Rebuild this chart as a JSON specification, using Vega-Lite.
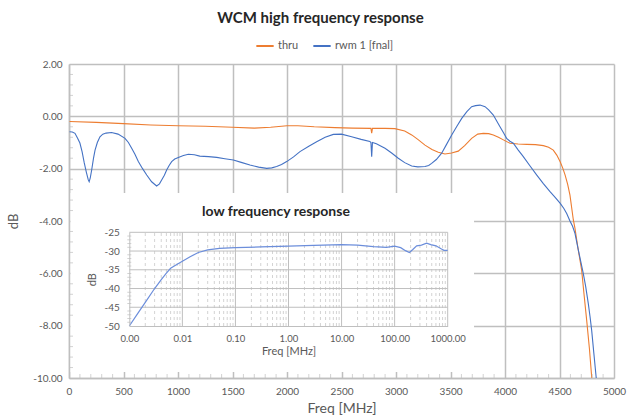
{
  "$schema": "https://vega.github.io/schema/vega-lite/v6.json",
  "width": 545,
  "height": 314,
  "autosize": "none",
  "padding": {"left": 69, "top": 64, "right": 16, "bottom": 38},
  "config": {
    "font": "Lato",
    "view": {"stroke": null},
    "axis": {"labelFlush": false, "labelOverlap": false},
    "locale": {"number": {"decimal": ".", "thousands": ",", "grouping": [3], "currency": ["$", ""], "minus": "-"}}
  },
  "title": {"text": "WCM high frequency response", "anchor": "middle", "frame": "group", "dx": -21, "offset": 10, "fontSize": 15, "fontWeight": "bold", "color": "#262626"},
  "datasets": {
    "hf": [
      {"f": 5, "db": -0.2, "s": "thru"},
      {"f": 250, "db": -0.23, "s": "thru"},
      {"f": 500, "db": -0.28, "s": "thru"},
      {"f": 750, "db": -0.33, "s": "thru"},
      {"f": 1000, "db": -0.36, "s": "thru"},
      {"f": 1250, "db": -0.38, "s": "thru"},
      {"f": 1500, "db": -0.42, "s": "thru"},
      {"f": 1700, "db": -0.45, "s": "thru"},
      {"f": 1850, "db": -0.42, "s": "thru"},
      {"f": 2000, "db": -0.36, "s": "thru"},
      {"f": 2100, "db": -0.36, "s": "thru"},
      {"f": 2250, "db": -0.4, "s": "thru"},
      {"f": 2440, "db": -0.43, "s": "thru"},
      {"f": 2600, "db": -0.45, "s": "thru"},
      {"f": 2770, "db": -0.46, "s": "thru"},
      {"f": 2777, "db": -0.64, "s": "thru"},
      {"f": 2784, "db": -0.46, "s": "thru"},
      {"f": 2900, "db": -0.46, "s": "thru"},
      {"f": 2990, "db": -0.47, "s": "thru"},
      {"f": 3080, "db": -0.56, "s": "thru"},
      {"f": 3144, "db": -0.71, "s": "thru"},
      {"f": 3200, "db": -0.88, "s": "thru"},
      {"f": 3266, "db": -1.1, "s": "thru"},
      {"f": 3330, "db": -1.27, "s": "thru"},
      {"f": 3388, "db": -1.37, "s": "thru"},
      {"f": 3449, "db": -1.44, "s": "thru"},
      {"f": 3510, "db": -1.4, "s": "thru"},
      {"f": 3571, "db": -1.33, "s": "thru"},
      {"f": 3630, "db": -1.12, "s": "thru"},
      {"f": 3694, "db": -0.84, "s": "thru"},
      {"f": 3750, "db": -0.68, "s": "thru"},
      {"f": 3801, "db": -0.65, "s": "thru"},
      {"f": 3850, "db": -0.66, "s": "thru"},
      {"f": 3893, "db": -0.71, "s": "thru"},
      {"f": 3940, "db": -0.8, "s": "thru"},
      {"f": 3985, "db": -0.9, "s": "thru"},
      {"f": 4046, "db": -1.03, "s": "thru"},
      {"f": 4120, "db": -1.06, "s": "thru"},
      {"f": 4199, "db": -1.07, "s": "thru"},
      {"f": 4280, "db": -1.08, "s": "thru"},
      {"f": 4352, "db": -1.12, "s": "thru"},
      {"f": 4400, "db": -1.18, "s": "thru"},
      {"f": 4443, "db": -1.29, "s": "thru"},
      {"f": 4475, "db": -1.48, "s": "thru"},
      {"f": 4505, "db": -1.73, "s": "thru"},
      {"f": 4530, "db": -1.98, "s": "thru"},
      {"f": 4551, "db": -2.24, "s": "thru"},
      {"f": 4575, "db": -2.6, "s": "thru"},
      {"f": 4596, "db": -3.01, "s": "thru"},
      {"f": 4627, "db": -3.96, "s": "thru"},
      {"f": 4642, "db": -4.28, "s": "thru"},
      {"f": 4670, "db": -5.05, "s": "thru"},
      {"f": 4703, "db": -5.87, "s": "thru"},
      {"f": 4725, "db": -6.8, "s": "thru"},
      {"f": 4749, "db": -7.78, "s": "thru"},
      {"f": 4775, "db": -8.9, "s": "thru"},
      {"f": 4796, "db": -10.0, "s": "thru"},
      {"f": 5, "db": -0.59, "s": "rwm 1 [fnal]"},
      {"f": 30, "db": -0.6, "s": "rwm 1 [fnal]"},
      {"f": 55, "db": -0.65, "s": "rwm 1 [fnal]"},
      {"f": 80, "db": -0.85, "s": "rwm 1 [fnal]"},
      {"f": 100, "db": -1.02, "s": "rwm 1 [fnal]"},
      {"f": 120, "db": -1.35, "s": "rwm 1 [fnal]"},
      {"f": 140, "db": -1.78, "s": "rwm 1 [fnal]"},
      {"f": 160, "db": -2.15, "s": "rwm 1 [fnal]"},
      {"f": 177, "db": -2.43, "s": "rwm 1 [fnal]"},
      {"f": 185, "db": -2.5, "s": "rwm 1 [fnal]"},
      {"f": 195, "db": -2.35, "s": "rwm 1 [fnal]"},
      {"f": 208, "db": -2.05, "s": "rwm 1 [fnal]"},
      {"f": 225, "db": -1.6, "s": "rwm 1 [fnal]"},
      {"f": 239, "db": -1.29, "s": "rwm 1 [fnal]"},
      {"f": 260, "db": -1.0, "s": "rwm 1 [fnal]"},
      {"f": 284, "db": -0.78, "s": "rwm 1 [fnal]"},
      {"f": 310, "db": -0.68, "s": "rwm 1 [fnal]"},
      {"f": 340, "db": -0.64, "s": "rwm 1 [fnal]"},
      {"f": 390, "db": -0.62, "s": "rwm 1 [fnal]"},
      {"f": 450, "db": -0.68, "s": "rwm 1 [fnal]"},
      {"f": 514, "db": -0.84, "s": "rwm 1 [fnal]"},
      {"f": 545, "db": -1.0, "s": "rwm 1 [fnal]"},
      {"f": 575, "db": -1.22, "s": "rwm 1 [fnal]"},
      {"f": 605, "db": -1.45, "s": "rwm 1 [fnal]"},
      {"f": 636, "db": -1.73, "s": "rwm 1 [fnal]"},
      {"f": 675, "db": -2.0, "s": "rwm 1 [fnal]"},
      {"f": 713, "db": -2.24, "s": "rwm 1 [fnal]"},
      {"f": 758, "db": -2.5, "s": "rwm 1 [fnal]"},
      {"f": 804, "db": -2.66, "s": "rwm 1 [fnal]"},
      {"f": 830, "db": -2.58, "s": "rwm 1 [fnal]"},
      {"f": 850, "db": -2.43, "s": "rwm 1 [fnal]"},
      {"f": 875, "db": -2.25, "s": "rwm 1 [fnal]"},
      {"f": 896, "db": -2.05, "s": "rwm 1 [fnal]"},
      {"f": 920, "db": -1.87, "s": "rwm 1 [fnal]"},
      {"f": 942, "db": -1.73, "s": "rwm 1 [fnal]"},
      {"f": 970, "db": -1.63, "s": "rwm 1 [fnal]"},
      {"f": 1003, "db": -1.57, "s": "rwm 1 [fnal]"},
      {"f": 1050, "db": -1.5, "s": "rwm 1 [fnal]"},
      {"f": 1095, "db": -1.45, "s": "rwm 1 [fnal]"},
      {"f": 1150, "db": -1.47, "s": "rwm 1 [fnal]"},
      {"f": 1200, "db": -1.52, "s": "rwm 1 [fnal]"},
      {"f": 1280, "db": -1.54, "s": "rwm 1 [fnal]"},
      {"f": 1355, "db": -1.57, "s": "rwm 1 [fnal]"},
      {"f": 1430, "db": -1.62, "s": "rwm 1 [fnal]"},
      {"f": 1508, "db": -1.67, "s": "rwm 1 [fnal]"},
      {"f": 1580, "db": -1.76, "s": "rwm 1 [fnal]"},
      {"f": 1660, "db": -1.86, "s": "rwm 1 [fnal]"},
      {"f": 1740, "db": -1.94, "s": "rwm 1 [fnal]"},
      {"f": 1814, "db": -1.99, "s": "rwm 1 [fnal]"},
      {"f": 1860, "db": -1.97, "s": "rwm 1 [fnal]"},
      {"f": 1905, "db": -1.92, "s": "rwm 1 [fnal]"},
      {"f": 1950, "db": -1.84, "s": "rwm 1 [fnal]"},
      {"f": 1997, "db": -1.73, "s": "rwm 1 [fnal]"},
      {"f": 2060, "db": -1.55, "s": "rwm 1 [fnal]"},
      {"f": 2119, "db": -1.35, "s": "rwm 1 [fnal]"},
      {"f": 2200, "db": -1.14, "s": "rwm 1 [fnal]"},
      {"f": 2272, "db": -0.97, "s": "rwm 1 [fnal]"},
      {"f": 2350, "db": -0.8, "s": "rwm 1 [fnal]"},
      {"f": 2425, "db": -0.69, "s": "rwm 1 [fnal]"},
      {"f": 2500, "db": -0.68, "s": "rwm 1 [fnal]"},
      {"f": 2593, "db": -0.78, "s": "rwm 1 [fnal]"},
      {"f": 2680, "db": -0.88, "s": "rwm 1 [fnal]"},
      {"f": 2760, "db": -0.96, "s": "rwm 1 [fnal]"},
      {"f": 2770, "db": -1.0, "s": "rwm 1 [fnal]"},
      {"f": 2777, "db": -1.54, "s": "rwm 1 [fnal]"},
      {"f": 2784, "db": -1.0, "s": "rwm 1 [fnal]"},
      {"f": 2820, "db": -1.05, "s": "rwm 1 [fnal]"},
      {"f": 2899, "db": -1.22, "s": "rwm 1 [fnal]"},
      {"f": 2960, "db": -1.4, "s": "rwm 1 [fnal]"},
      {"f": 3021, "db": -1.6, "s": "rwm 1 [fnal]"},
      {"f": 3080, "db": -1.77, "s": "rwm 1 [fnal]"},
      {"f": 3144, "db": -1.9, "s": "rwm 1 [fnal]"},
      {"f": 3200, "db": -1.93, "s": "rwm 1 [fnal]"},
      {"f": 3266, "db": -1.92, "s": "rwm 1 [fnal]"},
      {"f": 3300, "db": -1.88, "s": "rwm 1 [fnal]"},
      {"f": 3327, "db": -1.8, "s": "rwm 1 [fnal]"},
      {"f": 3370, "db": -1.65, "s": "rwm 1 [fnal]"},
      {"f": 3419, "db": -1.41, "s": "rwm 1 [fnal]"},
      {"f": 3460, "db": -1.1, "s": "rwm 1 [fnal]"},
      {"f": 3511, "db": -0.71, "s": "rwm 1 [fnal]"},
      {"f": 3560, "db": -0.37, "s": "rwm 1 [fnal]"},
      {"f": 3603, "db": -0.08, "s": "rwm 1 [fnal]"},
      {"f": 3650, "db": 0.18, "s": "rwm 1 [fnal]"},
      {"f": 3694, "db": 0.37, "s": "rwm 1 [fnal]"},
      {"f": 3730, "db": 0.41, "s": "rwm 1 [fnal]"},
      {"f": 3771, "db": 0.43, "s": "rwm 1 [fnal]"},
      {"f": 3817, "db": 0.37, "s": "rwm 1 [fnal]"},
      {"f": 3850, "db": 0.25, "s": "rwm 1 [fnal]"},
      {"f": 3893, "db": 0.05, "s": "rwm 1 [fnal]"},
      {"f": 3920, "db": -0.15, "s": "rwm 1 [fnal]"},
      {"f": 3954, "db": -0.4, "s": "rwm 1 [fnal]"},
      {"f": 3985, "db": -0.62, "s": "rwm 1 [fnal]"},
      {"f": 4015, "db": -0.84, "s": "rwm 1 [fnal]"},
      {"f": 4045, "db": -0.95, "s": "rwm 1 [fnal]"},
      {"f": 4076, "db": -1.03, "s": "rwm 1 [fnal]"},
      {"f": 4120, "db": -1.28, "s": "rwm 1 [fnal]"},
      {"f": 4168, "db": -1.54, "s": "rwm 1 [fnal]"},
      {"f": 4230, "db": -1.9, "s": "rwm 1 [fnal]"},
      {"f": 4290, "db": -2.24, "s": "rwm 1 [fnal]"},
      {"f": 4350, "db": -2.56, "s": "rwm 1 [fnal]"},
      {"f": 4413, "db": -2.88, "s": "rwm 1 [fnal]"},
      {"f": 4460, "db": -3.1, "s": "rwm 1 [fnal]"},
      {"f": 4505, "db": -3.32, "s": "rwm 1 [fnal]"},
      {"f": 4540, "db": -3.52, "s": "rwm 1 [fnal]"},
      {"f": 4566, "db": -3.71, "s": "rwm 1 [fnal]"},
      {"f": 4596, "db": -4.0, "s": "rwm 1 [fnal]"},
      {"f": 4620, "db": -4.2, "s": "rwm 1 [fnal]"},
      {"f": 4642, "db": -4.47, "s": "rwm 1 [fnal]"},
      {"f": 4673, "db": -5.11, "s": "rwm 1 [fnal]"},
      {"f": 4700, "db": -5.65, "s": "rwm 1 [fnal]"},
      {"f": 4718, "db": -6.0, "s": "rwm 1 [fnal]"},
      {"f": 4740, "db": -6.5, "s": "rwm 1 [fnal]"},
      {"f": 4764, "db": -7.15, "s": "rwm 1 [fnal]"},
      {"f": 4780, "db": -7.65, "s": "rwm 1 [fnal]"},
      {"f": 4795, "db": -8.17, "s": "rwm 1 [fnal]"},
      {"f": 4815, "db": -9.05, "s": "rwm 1 [fnal]"},
      {"f": 4837, "db": -10.0, "s": "rwm 1 [fnal]"}
    ],
    "lf": [
      {"f": 0.001, "db": -50.0},
      {"f": 0.0015, "db": -46.3},
      {"f": 0.002, "db": -43.7},
      {"f": 0.003, "db": -40.0},
      {"f": 0.004, "db": -37.6},
      {"f": 0.005, "db": -35.9},
      {"f": 0.006, "db": -34.6},
      {"f": 0.008, "db": -33.5},
      {"f": 0.01, "db": -32.7},
      {"f": 0.014, "db": -31.5},
      {"f": 0.02, "db": -30.4},
      {"f": 0.03, "db": -29.7},
      {"f": 0.05, "db": -29.3},
      {"f": 0.1, "db": -29.1},
      {"f": 0.3, "db": -28.9},
      {"f": 1, "db": -28.7},
      {"f": 3, "db": -28.5},
      {"f": 10, "db": -28.3},
      {"f": 20, "db": -28.4},
      {"f": 40, "db": -28.8},
      {"f": 70, "db": -29.0},
      {"f": 100, "db": -28.7},
      {"f": 130, "db": -29.1},
      {"f": 160, "db": -29.9},
      {"f": 190, "db": -30.4},
      {"f": 220, "db": -29.6},
      {"f": 260, "db": -28.6},
      {"f": 320, "db": -28.4},
      {"f": 400, "db": -27.9},
      {"f": 480, "db": -28.3},
      {"f": 600, "db": -28.6},
      {"f": 750, "db": -29.4},
      {"f": 850, "db": -29.8},
      {"f": 1000, "db": -29.8}
    ],
    "xminor": [
      {"f": 100}, {"f": 200}, {"f": 300}, {"f": 400},
      {"f": 600}, {"f": 700}, {"f": 800}, {"f": 900},
      {"f": 1100}, {"f": 1200}, {"f": 1300}, {"f": 1400},
      {"f": 1600}, {"f": 1700}, {"f": 1800}, {"f": 1900},
      {"f": 2100}, {"f": 2200}, {"f": 2300}, {"f": 2400},
      {"f": 2600}, {"f": 2700}, {"f": 2800}, {"f": 2900},
      {"f": 3100}, {"f": 3200}, {"f": 3300}, {"f": 3400},
      {"f": 3600}, {"f": 3700}, {"f": 3800}, {"f": 3900},
      {"f": 4100}, {"f": 4200}, {"f": 4300}, {"f": 4400},
      {"f": 4600}, {"f": 4700}, {"f": 4800}, {"f": 4900}
    ],
    "yminor": [
      {"db": -9.6}, {"db": -9.2}, {"db": -8.8}, {"db": -8.4},
      {"db": -7.6}, {"db": -7.2}, {"db": -6.8}, {"db": -6.4},
      {"db": -5.6}, {"db": -5.2}, {"db": -4.8}, {"db": -4.4},
      {"db": -3.6}, {"db": -3.2}, {"db": -2.8}, {"db": -2.4},
      {"db": -1.6}, {"db": -1.2}, {"db": -0.8}, {"db": -0.4},
      {"db": 0.4}, {"db": 0.8}, {"db": 1.2}, {"db": 1.6}
    ],
    "lfmajor": [
      {"f": 0.01}, {"f": 0.1}, {"f": 1}, {"f": 10}, {"f": 100}, {"f": 1000}
    ],
    "lfminor": [
      {"f": 0.002}, {"f": 0.003}, {"f": 0.004}, {"f": 0.005}, {"f": 0.006}, {"f": 0.007}, {"f": 0.008}, {"f": 0.009},
      {"f": 0.02}, {"f": 0.03}, {"f": 0.04}, {"f": 0.05}, {"f": 0.06}, {"f": 0.07}, {"f": 0.08}, {"f": 0.09},
      {"f": 0.2}, {"f": 0.3}, {"f": 0.4}, {"f": 0.5}, {"f": 0.6}, {"f": 0.7}, {"f": 0.8}, {"f": 0.9},
      {"f": 2}, {"f": 3}, {"f": 4}, {"f": 5}, {"f": 6}, {"f": 7}, {"f": 8}, {"f": 9},
      {"f": 20}, {"f": 30}, {"f": 40}, {"f": 50}, {"f": 60}, {"f": 70}, {"f": 80}, {"f": 90},
      {"f": 200}, {"f": 300}, {"f": 400}, {"f": 500}, {"f": 600}, {"f": 700}, {"f": 800}, {"f": 900}
    ],
    "lfh": [
      {"db": -45}, {"db": -40}, {"db": -35}, {"db": -30}, {"db": -25}
    ],
    "lfyminor": [
      {"db": -49}, {"db": -48}, {"db": -47}, {"db": -46},
      {"db": -44}, {"db": -43}, {"db": -42}, {"db": -41},
      {"db": -39}, {"db": -38}, {"db": -37}, {"db": -36},
      {"db": -34}, {"db": -33}, {"db": -32}, {"db": -31},
      {"db": -29}, {"db": -28}, {"db": -27}, {"db": -26}
    ]
  },
  "layer": [
    {
      "layer": [
        {
          "data": {"name": "hf"},
          "mark": {"type": "line", "strokeWidth": 1.1, "clip": true},
          "encoding": {
            "x": {
              "field": "f", "type": "quantitative",
              "scale": {"domain": [0, 5000], "nice": false, "zero": true},
              "axis": {
                "values": [0, 500, 1000, 1500, 2000, 2500, 3000, 3500, 4000, 4500, 5000],
                "format": "d", "grid": true, "gridColor": "#BFBFBF", "gridWidth": 1.5,
                "domainColor": "#BFBFBF", "domainWidth": 1.5, "ticks": false,
                "labelPadding": 8, "labelFontSize": 10, "labelColor": "#595959",
                "title": "Freq [MHz]", "titleFontSize": 14, "titleFontWeight": "normal",
                "titleColor": "#595959", "titlePadding": 5
              }
            },
            "y": {
              "field": "db", "type": "quantitative",
              "scale": {"domain": [-10, 2], "nice": false, "zero": false},
              "axis": {
                "values": [-10, -8, -6, -4, -2, 0, 2],
                "format": ".2f", "grid": true, "gridColor": "#BFBFBF", "gridWidth": 1.5,
                "domainColor": "#BFBFBF", "domainWidth": 1.5, "ticks": false,
                "labelPadding": 7, "labelFontSize": 10, "labelColor": "#595959",
                "title": "dB", "titleFontSize": 13, "titleFontWeight": "normal",
                "titleColor": "#595959", "titlePadding": 12
              }
            },
            "color": {
              "field": "s", "type": "nominal",
              "scale": {"domain": ["thru", "rwm 1 [fnal]"], "range": ["#ED7D31", "#4472C4"]},
              "legend": {
                "orient": "none", "legendX": 186, "legendY": -28, "direction": "horizontal",
                "title": null, "symbolType": "stroke", "symbolStrokeWidth": 2, "symbolSize": 300,
                "labelFontSize": 11, "labelColor": "#595959", "columnPadding": 10, "labelOffset": 3
              }
            },
            "order": {"field": "f", "type": "quantitative"}
          }
        },
        {
          "data": {"values": [{}]},
          "mark": {"type": "rect", "fill": "white"},
          "encoding": {
            "x": {"datum": 14, "type": "quantitative"},
            "x2": {"datum": 3716},
            "y": {"datum": -2.93, "type": "quantitative"},
            "y2": {"datum": -9.77}
          }
        },
        {
          "data": {"name": "xminor"},
          "mark": {"type": "tick", "orient": "vertical", "size": 4, "yOffset": -2, "color": "#BFBFBF", "thickness": 1},
          "encoding": {
            "x": {"field": "f", "type": "quantitative"},
            "y": {"datum": -10, "type": "quantitative"}
          }
        },
        {
          "data": {"name": "yminor"},
          "mark": {"type": "tick", "orient": "horizontal", "size": 4, "xOffset": 2, "color": "#BFBFBF", "thickness": 1},
          "encoding": {
            "y": {"field": "db", "type": "quantitative"},
            "x": {"datum": 0, "type": "quantitative"}
          }
        }
      ]
    },
    {
      "layer": [
        {
          "data": {"name": "lfminor"},
          "mark": {"type": "rule", "color": "#C8C8C8", "strokeWidth": 0.8, "strokeDash": [3, 3]},
          "encoding": {
            "x": {"field": "f", "type": "quantitative", "scale": {"type": "log", "domain": [0.001, 1000], "range": [60.3, 378.7]}},
            "y": {"datum": -50, "type": "quantitative", "scale": {"domain": [-50, -25], "range": [262, 168.3], "nice": false, "zero": false}},
            "y2": {"datum": -25}
          }
        },
        {
          "data": {"name": "lfmajor"},
          "mark": {"type": "rule", "color": "#BFBFBF", "strokeWidth": 1},
          "encoding": {
            "x": {"field": "f", "type": "quantitative"},
            "y": {"datum": -50, "type": "quantitative"},
            "y2": {"datum": -25}
          }
        },
        {
          "data": {"name": "lfh"},
          "mark": {"type": "rule", "color": "#BFBFBF", "strokeWidth": 1},
          "encoding": {
            "y": {"field": "db", "type": "quantitative"},
            "x": {"datum": 0.001, "type": "quantitative"},
            "x2": {"datum": 1000}
          }
        },
        {
          "data": {"name": "lfyminor"},
          "mark": {"type": "tick", "orient": "horizontal", "size": 4, "color": "#BFBFBF", "thickness": 1},
          "encoding": {
            "y": {"field": "db", "type": "quantitative"},
            "x": {"datum": 0.001, "type": "quantitative"}
          }
        },
        {
          "data": {"name": "lf"},
          "mark": {"type": "line", "strokeWidth": 1.2, "color": "#6C8EDB"},
          "encoding": {
            "x": {
              "field": "f", "type": "quantitative",
              "axis": {
                "orient": "bottom", "offset": -52, "zindex": 1,
                "values": [0.001, 0.01, 0.1, 1, 10, 100, 1000], "format": ".2f",
                "grid": false, "ticks": false, "domainColor": "#BFBFBF", "domainWidth": 1,
                "labelPadding": 7, "labelFontSize": 9.5, "labelColor": "#595959",
                "title": "Freq [MHz]", "titleFontSize": 11, "titleFontWeight": "normal",
                "titleColor": "#595959", "titlePadding": 3
              }
            },
            "y": {
              "field": "db", "type": "quantitative",
              "axis": {
                "orient": "left", "offset": -60.3, "zindex": 1,
                "values": [-50, -45, -40, -35, -30, -25], "format": "d",
                "grid": false, "ticks": false, "domainColor": "#BFBFBF", "domainWidth": 1,
                "labelPadding": 10, "labelFontSize": 10, "labelColor": "#595959",
                "title": "dB", "titleFontSize": 11, "titleFontWeight": "normal",
                "titleColor": "#595959", "titlePadding": 6
              }
            }
          }
        },
        {
          "data": {"values": [{}]},
          "mark": {"type": "text", "text": "low frequency response", "fontSize": 14, "fontWeight": "bold", "color": "#262626", "align": "center", "baseline": "middle"},
          "encoding": {
            "x": {"datum": 0.58, "type": "quantitative"},
            "y": {"datum": -19.6, "type": "quantitative"}
          }
        }
      ]
    }
  ],
  "resolve": {
    "scale": {"x": "independent", "y": "independent"},
    "axis": {"x": "independent", "y": "independent"}
  }
}
